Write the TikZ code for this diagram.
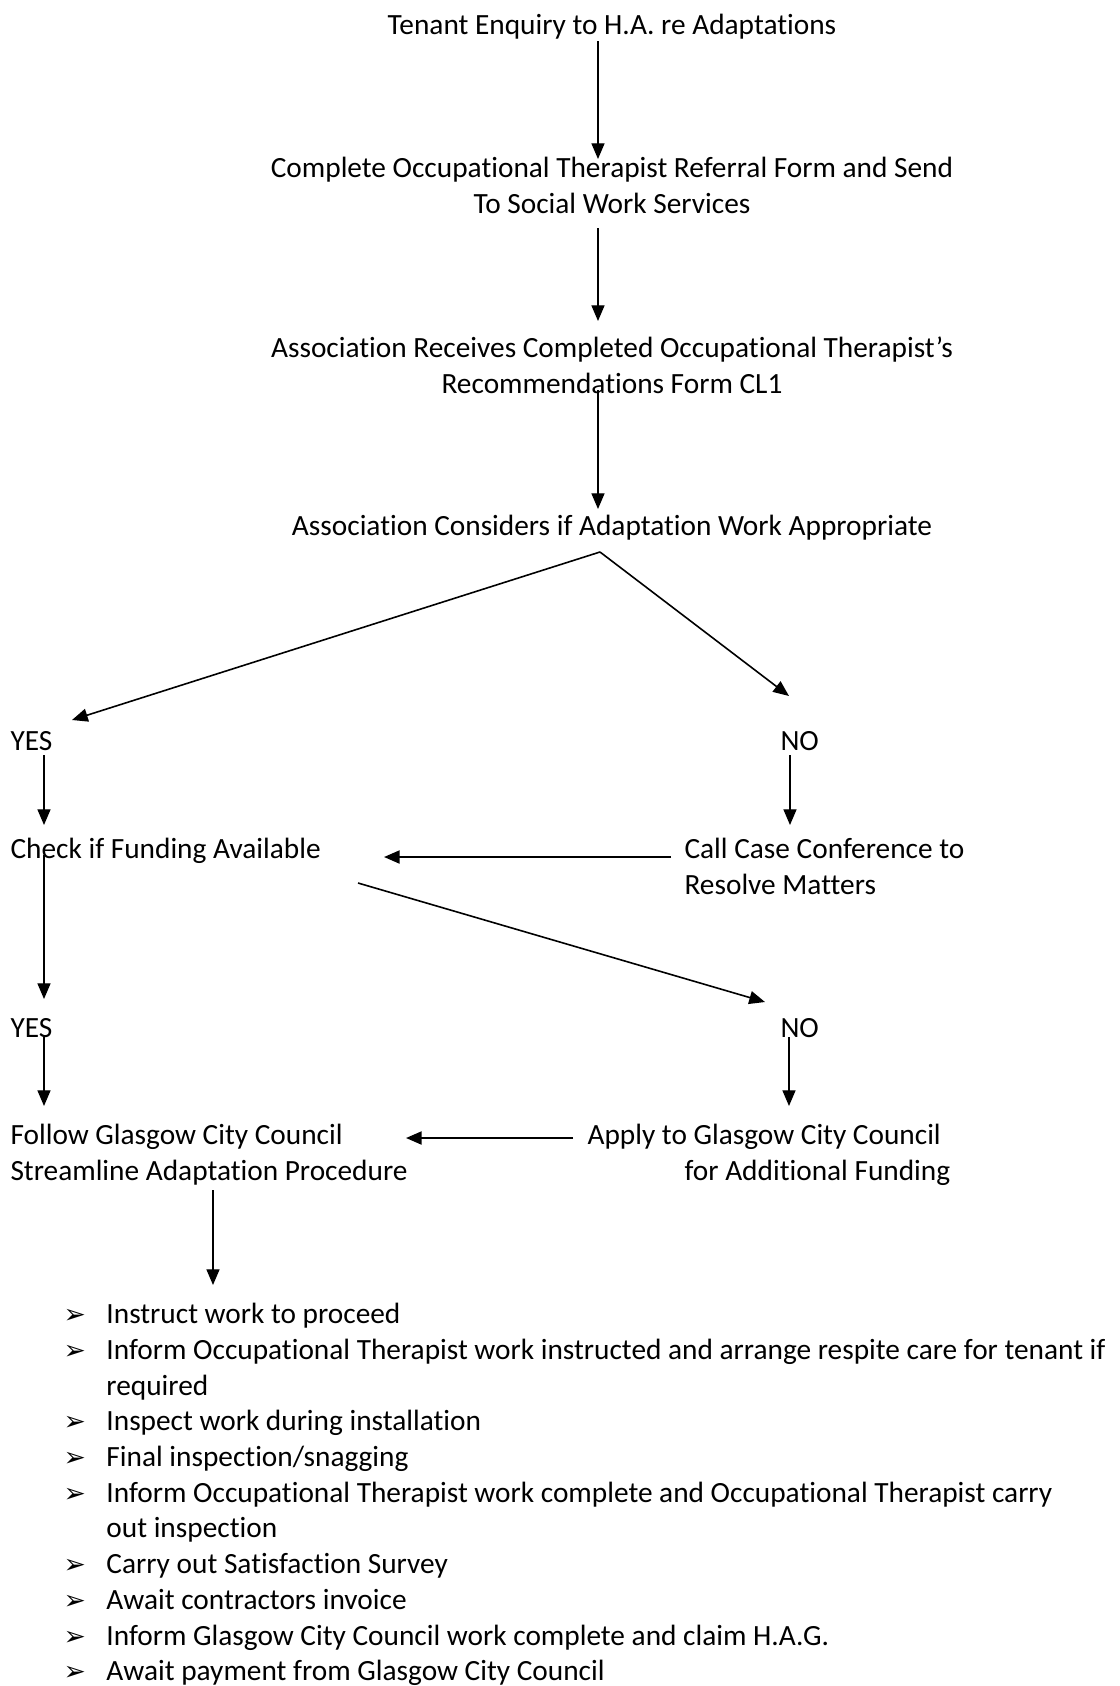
\documentclass[tikz,border=0pt]{standalone}
\usepackage{fontspec}
\setmainfont{Carlito}[RawFeature={-liga;-clig;-calt;-dlig}]
\newfontfamily\dejavu{DejaVu Sans}
\usetikzlibrary{arrows.meta}
\newcommand\bulmark{\makebox[16.1pt][l]{{\dejavu\fontsize{10pt}{10pt}\selectfont ➢}}}
\newcommand\listindent{\hspace*{16.1pt}}
\begin{document}
\begin{tikzpicture}[x=0.375pt,y=-0.375pt,
  txt/.style={inner sep=0pt,font=\fontsize{11pt}{13.4pt}\selectfont},
  arr/.style={-{Triangle[length=5.9pt,width=4.9pt]},line width=0.5pt},
  harr/.style={arr,line width=0.8pt},
  darr/.style={arr,line width=0.6pt}]
\useasboundingbox (0,0) rectangle (1119,1686);
% texts
\node[txt,anchor=north] (tenant) at (612,8.5) {\strut Tenant Enquiry to H.A. re Adaptations};
\node[txt,anchor=north,align=center] (referral) at (612,152) {\strut Complete Occupational Therapist Referral Form and Send\\To Social Work Services};
\node[txt,anchor=north,align=center] (receives) at (612,332) {\strut Association Receives Completed Occupational Therapist’s\\Recommendations Form CL1};
\node[txt,anchor=north] (considers) at (612,510) {\strut Association Considers if Adaptation Work Appropriate};
\node[txt,anchor=north west] (yes1) at (10,725) {\strut YES};
\node[txt,anchor=north west] (no1) at (780,725) {\strut NO};
\node[txt,anchor=north west] (check) at (10,833) {\strut Check if Funding Available};
\node[txt,anchor=north west,align=left] (conf) at (684,833) {\strut Call Case Conference to\\Resolve Matters};
\node[txt,anchor=north west] (yes2) at (10,1012) {\strut YES};
\node[txt,anchor=north west] (no2) at (780,1012) {\strut NO};
\node[txt,anchor=north west,align=left] (follow) at (10,1119) {\strut Follow Glasgow City Council\\Streamline Adaptation Procedure};
\node[txt,anchor=north west,align=left] (apply) at (587,1119) {\strut Apply to Glasgow City Council\\\hspace*{36.4pt}for Additional Funding};
\node[txt,anchor=north west,align=left] (steps) at (63,1298) {\strut\bulmark Instruct work to proceed\\
\bulmark Inform Occupational Therapist work instructed and arrange respite care for tenant if\\
\listindent required\\
\bulmark Inspect work during installation\\
\bulmark Final inspection/snagging\\
\bulmark Inform Occupational Therapist work complete and Occupational Therapist carry\\
\listindent out inspection\\
\bulmark Carry out Satisfaction Survey\\
\bulmark Await contractors invoice\\
\bulmark Inform Glasgow City Council work complete and claim H.A.G.\\
\bulmark Await payment from Glasgow City Council};
% connector end points
\coordinate (a1s) at (598,41);   \coordinate (a1e) at (598,159);
\coordinate (a2s) at (598,228);  \coordinate (a2e) at (598,321);
\coordinate (a3s) at (598,390);  \coordinate (a3e) at (598,509);
\coordinate (split) at (600,552);
\coordinate (d1e) at (72,720);   \coordinate (d2e) at (789,696);
\coordinate (y1s) at (44,755);   \coordinate (y1e) at (44,825);
\coordinate (n1s) at (790,755);  \coordinate (n1e) at (790,825);
\coordinate (h1s) at (671,857);  \coordinate (h1e) at (384,857);
\coordinate (v2s) at (44,855);   \coordinate (v2e) at (44,999);
\coordinate (d3s) at (358,883);  \coordinate (d3e) at (765,1002);
\coordinate (y2s) at (44,1037);  \coordinate (y2e) at (44,1106);
\coordinate (n2s) at (789,1037); \coordinate (n2e) at (789,1106);
\coordinate (h2s) at (573,1138); \coordinate (h2e) at (406,1138);
\coordinate (v3s) at (213,1190); \coordinate (v3e) at (213,1285);
% connectors
\draw[arr] (a1s) -- (a1e);
\draw[arr] (a2s) -- (a2e);
\draw[arr] (a3s) -- (a3e);
\draw[darr] (split) -- (d1e);
\draw[darr] (split) -- (d2e);
\draw[arr] (y1s) -- (y1e);
\draw[arr] (n1s) -- (n1e);
\draw[harr] (h1s) -- (h1e);
\draw[arr] (v2s) -- (v2e);
\draw[darr] (d3s) -- (d3e);
\draw[arr] (y2s) -- (y2e);
\draw[arr] (n2s) -- (n2e);
\draw[harr] (h2s) -- (h2e);
\draw[arr] (v3s) -- (v3e);
\end{tikzpicture}
\end{document}
